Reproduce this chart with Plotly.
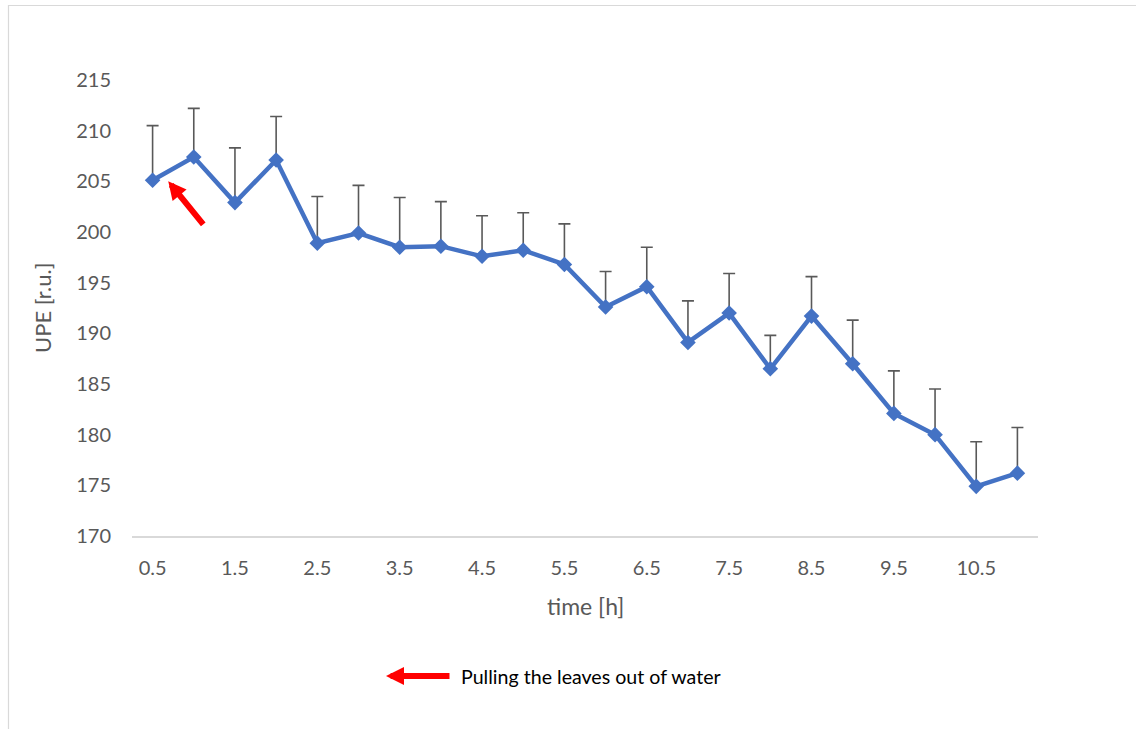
import plotly.graph_objects as go

time_h = [0.5, 1, 1.5, 2, 2.5, 3, 3.5, 4, 4.5, 5, 5.5, 6, 6.5, 7, 7.5, 8, 8.5, 9, 9.5, 10, 10.5, 11]
upe = [205.1, 207.4, 202.9, 207.1, 198.9, 199.9, 198.5, 198.6, 197.6, 198.2, 196.8, 192.6,
       194.6, 189.1, 192.0, 186.5, 191.7, 187.0, 182.1, 180.0, 174.9, 176.2]
upe_err = [5.4, 4.8, 5.4, 4.3, 4.6, 4.7, 4.9, 4.4, 4.0, 3.7, 4.0, 3.5,
           3.9, 4.1, 3.9, 3.3, 3.9, 4.3, 4.2, 4.5, 4.4, 4.5]
tick_vals = [0.5, 1.5, 2.5, 3.5, 4.5, 5.5, 6.5, 7.5, 8.5, 9.5, 10.5]
y_ticks = [170, 175, 180, 185, 190, 195, 200, 205, 210, 215]

W, H = 1136, 729
L, R, T, B = 132, 1038, 80, 536

def px(x):
    return (x - L) / (R - L)

def py(y):
    return (B - y) / (B - T)

fig = go.Figure()
fig.add_trace(go.Scatter(
    x=time_h, y=upe, mode="lines+markers",
    line=dict(color="#4472C4", width=4.5),
    marker=dict(symbol="diamond", size=12, color="#4472C4"),
    error_y=dict(type="data", symmetric=False, array=upe_err, arrayminus=[0] * len(upe_err),
                 color="#595959", thickness=1.6, width=6),
    showlegend=False,
))

font = "Lato, 'Open Sans', sans-serif"
fig.update_layout(
    width=W, height=H,
    margin=dict(l=L, r=W - R, t=T, b=H - B, autoexpand=False),
    paper_bgcolor="white", plot_bgcolor="white",
    font=dict(family=font, size=20, color="#595959"),
    xaxis=dict(range=[0.25, 11.25], tickvals=tick_vals, ticktext=[str(v) for v in tick_vals],
               showgrid=False, zeroline=False, showline=True, linecolor="#D9D9D9", linewidth=1.5,
               ticks="", ticklabelstandoff=13, tickfont=dict(size=20, color="#595959")),
    yaxis=dict(range=[170, 215], tickvals=y_ticks, showgrid=False, zeroline=False,
               showline=False, ticks="", ticklabelstandoff=20,
               tickfont=dict(size=20, color="#595959")),
)

# outer chart border
fig.add_shape(type="rect", xref="paper", yref="paper",
              x0=px(8.5), x1=px(1140), y0=py(5.5), y1=py(740),
              line=dict(color="#D9D9D9", width=1.2), fillcolor="rgba(0,0,0,0)", layer="below")

# axis titles
fig.add_annotation(text="time [h]", xref="paper", yref="paper", x=px(585), y=py(606),
                   showarrow=False, font=dict(size=23, color="#595959"), xanchor="center", yanchor="middle")
fig.add_annotation(text="UPE [r.u.]", xref="paper", yref="paper", x=px(42), y=py(308),
                   showarrow=False, textangle=-90, font=dict(size=22, color="#595959"),
                   xanchor="center", yanchor="middle")

# red arrow pointing to first point
fig.add_annotation(x=0.69, y=205.0, ax=1.13, ay=200.6, xref="x", yref="y", axref="x", ayref="y",
                   text="", showarrow=True, arrowhead=2, arrowsize=0.6, arrowwidth=6, arrowcolor="#FF0000")

# legend-like note
fig.add_annotation(x=px(386), y=py(676), ax=65, ay=0, xref="paper", yref="paper",
                   axref="pixel", ayref="pixel", text="", showarrow=True, arrowhead=2,
                   arrowsize=0.6, arrowwidth=6, arrowcolor="#FF0000")
fig.add_annotation(text="Pulling the leaves out of water", xref="paper", yref="paper",
                   x=px(459), y=py(676), showarrow=False, xanchor="left", yanchor="middle",
                   font=dict(size=19.6, color="#000000"))

fig.write_html("out.html", config={"displayModeBar": False},
               post_script="document.body.style.margin='0';document.body.style.overflow='hidden';")
